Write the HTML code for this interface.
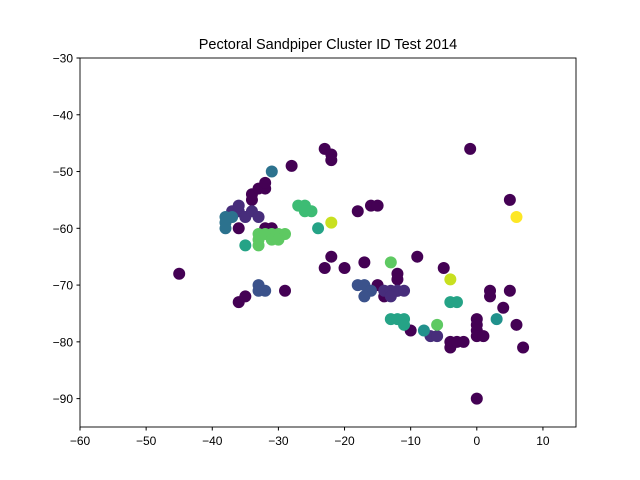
<!DOCTYPE html>
<html><head><meta charset="utf-8"><style>
body{margin:0;background:#fff}
svg{display:block;font-family:"Liberation Sans","DejaVu Sans",sans-serif}
</style></head><body>
<svg id="chart" width="640" height="480">
<text x="328" y="49" font-size="14.5" text-anchor="middle">Pectoral Sandpiper Cluster ID Test 2014</text>
<g id="pts"></g>
<rect x="80" y="58" width="496" height="369" fill="none" stroke="#000" stroke-width="0.9"/>
<g id="axes" font-size="12"></g>
</svg>
<script>
const xTicks=[-60,-50,-40,-30,-20,-10,0,10];
const yTicks=[-30,-40,-50,-60,-70,-80,-90];
const palette=["#440154","#472d7b","#3b528b","#2c728e","#21918c","#25a386","#5ec962","#3dbc74","#c8e020","#fde725"];
const xs=[-45,-36,-35,-36,-34,-34,-33,-32,-32,-32,-31,-28,-29,-23,-22,-22,-23,-22,-20,-18,-16,-15,-17,-15,-12,-12,-12,-10,-9,-5,-1,-4,-4,-3,-2,0,0,0,0,1,0,2,2,4,5,5,6,7,-14,
-37,-36,-35,-34,-33,-36,-14,-13,-12,-11,-13,-7,-6,
-33,-33,-32,-18,-17,-16,-17,
-38,-38,-38,-37,-31,
-8,3,
-35,-24,-13,-12,-11,-11,-4,-3,
-33,-33,-32,-31,-30,-29,-33,-31,-30,-13,-6,
-27,-26,-26,-25,
-22,-4,
6];
const ys=[-68,-73,-72,-60,-55,-54,-53,-53,-52,-60,-60,-49,-71,-46,-47,-48,-67,-65,-67,-57,-56,-56,-66,-70,-68,-69,-71,-78,-65,-67,-46,-80,-81,-80,-80,-76,-77,-78,-79,-79,-90,-71,-72,-74,-71,-55,-77,-81,-72,
-57,-57,-58,-57,-58,-56,-71,-71,-71,-71,-72,-79,-79,
-70,-71,-71,-70,-70,-71,-72,
-58,-59,-60,-58,-50,
-78,-76,
-63,-60,-76,-76,-76,-77,-73,-73,
-61,-62,-61,-61,-61,-61,-63,-62,-62,-66,-77,
-56,-56,-57,-57,
-59,-69,
-58];
const cluster=[0,0,0,0,0,0,0,0,0,0,0,0,0,0,0,0,0,0,0,0,0,0,0,0,0,0,0,0,0,0,0,0,0,0,0,0,0,0,0,0,0,0,0,0,0,0,0,0,0,
1,1,1,1,1,1,1,1,1,1,1,1,1,
2,2,2,2,2,2,2,
3,3,3,3,3,
4,4,
5,5,5,5,5,5,5,5,
6,6,6,6,6,6,6,6,6,6,6,
7,7,7,7,
8,8,
9];
const sx=d=>80+(d+60)*496/75;
const sy=d=>58+(-30-d)*369/65;
const NS="http://www.w3.org/2000/svg";
const pts=document.getElementById('pts');
for(let i=0;i<xs.length;i++){
  const c=document.createElementNS(NS,'circle');
  c.setAttribute('cx',sx(xs[i]));c.setAttribute('cy',sy(ys[i]));c.setAttribute('r',6);
  c.setAttribute('fill',palette[cluster[i]]);
  
  
  pts.appendChild(c);
}
const ax=document.getElementById('axes');
xTicks.forEach(t=>{
  const x=sx(t);
  const l=document.createElementNS(NS,'line');
  l.setAttribute('x1',x);l.setAttribute('x2',x);l.setAttribute('y1',427);l.setAttribute('y2',430.5);l.setAttribute('stroke','#000');
  
  
  ax.appendChild(l);
  const tx=document.createElementNS(NS,'text');
  tx.setAttribute('x',x);tx.setAttribute('y',445);tx.setAttribute('text-anchor','middle');
  tx.textContent=(t<0?'\u2212'+(-t):t);
  
  
  ax.appendChild(tx);
});
yTicks.forEach(t=>{
  const y=sy(t);
  const l=document.createElementNS(NS,'line');
  l.setAttribute('x1',76.5);l.setAttribute('x2',80);l.setAttribute('y1',y);l.setAttribute('y2',y);l.setAttribute('stroke','#000');
  
  
  ax.appendChild(l);
  const tx=document.createElementNS(NS,'text');
  tx.setAttribute('x',73);tx.setAttribute('y',y+4.5);tx.setAttribute('text-anchor','end');
  tx.textContent=(t<0?'\u2212'+(-t):t);
  
  
  ax.appendChild(tx);
});
</script>
</body></html>
